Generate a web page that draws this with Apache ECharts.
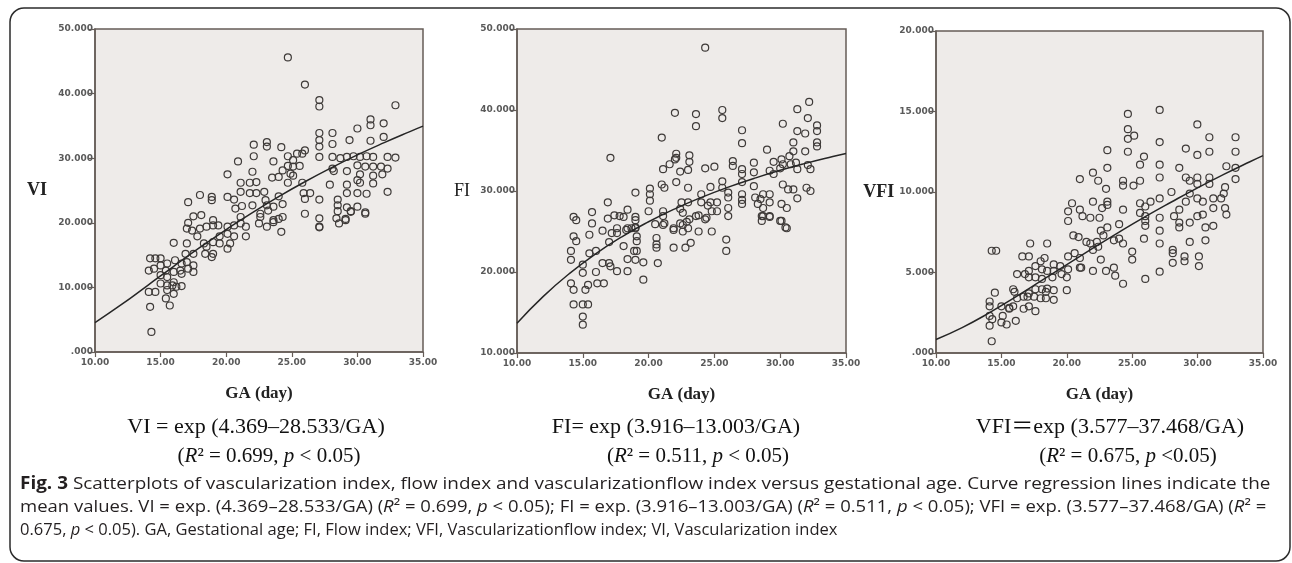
<!DOCTYPE html>
<html><head><meta charset="utf-8">
<script src="https://cdn.jsdelivr.net/npm/echarts@6/dist/echarts.min.js"></script>
<style>html,body{margin:0;padding:0;background:#fff}#c{width:1292px;height:563px}</style>
</head><body><div id="c"></div>
<script>
// ---------- tick labels ----------
const gaTickLabels = ['10.00','15.00','20.00','25.00','30.00','35.00'];
const viTickLabels = ['.000','10.000','20.000','30.000','40.000','50.000'];
const fiTickLabels = ['10.000','20.000','30.000','40.000','50.000'];
const vfiTickLabels = ['.000','5.000','10.000','15.000','20.000'];

// ---------- regression curves ----------
const curveGA  = [10, 12, 14, 16, 18, 20, 22, 24, 26, 28, 30, 32, 34, 35];
const viCurve  = [4.55, 7.32, 10.29, 13.27, 16.18, 18.96, 21.59, 24.05, 26.35, 28.50, 30.51, 32.37, 34.12, 34.96];
const fiCurve  = [13.68, 16.99, 19.83, 22.27, 24.38, 26.20, 27.80, 29.20, 30.45, 31.55, 32.55, 33.44, 34.25, 34.63];
const vfiCurve = [0.84, 1.58, 2.46, 3.44, 4.46, 5.49, 6.51, 7.51, 8.47, 9.38, 10.26, 11.09, 11.88, 12.26];

// ---------- scatter points [GA, value] ----------
const viPoints = [[24.7,45.6],[26.0,41.4],[27.1,39.0],[27.1,38.0],[32.9,38.2],[31.0,36.0],[31.0,35.1],[32.0,35.4],[30.0,34.6],[27.1,33.9],[27.1,32.8],[27.1,31.8],[28.1,33.9],[28.1,32.2],[29.4,32.8],[32.0,33.3],[31.0,32.7],[23.1,32.5],[23.1,31.8],[22.1,32.1],[24.2,31.7],[26.0,31.2],[20.9,29.5],[22.1,30.3],[24.7,30.3],[25.4,30.7],[25.8,30.7],[27.1,30.2],[28.1,30.2],[28.7,30.0],[29.2,30.2],[29.7,30.3],[30.2,30.2],[30.7,30.3],[31.2,30.2],[32.9,30.1],[32.3,30.2],[23.6,29.5],[25.1,29.7],[24.7,28.8],[25.1,28.7],[25.6,28.8],[24.3,28.1],[28.1,28.4],[28.2,28.0],[29.2,28.0],[30.0,28.9],[30.6,28.7],[31.2,28.7],[31.8,28.7],[32.3,28.4],[22.0,27.9],[20.1,27.5],[24.9,27.6],[25.1,27.3],[30.2,27.5],[31.2,27.3],[31.9,27.5],[21.1,26.2],[21.8,26.2],[22.3,26.3],[23.5,27.0],[24.0,27.1],[24.7,26.2],[25.8,26.2],[27.9,25.9],[29.2,25.9],[30.0,26.6],[30.2,26.2],[31.2,26.1],[32.3,24.8],[18.0,24.3],[18.9,24.0],[18.9,23.5],[20.1,24.0],[20.6,23.6],[21.8,24.6],[22.3,24.6],[22.9,24.8],[21.1,24.8],[17.1,23.2],[24.0,24.1],[25.9,24.6],[26.4,24.6],[26.0,23.7],[27.1,23.6],[28.5,23.6],[29.2,24.6],[30.0,24.6],[30.7,24.5],[23.0,23.5],[23.6,22.5],[23.1,22.7],[20.7,22.2],[21.2,22.6],[22.0,22.7],[22.6,21.4],[23.2,21.9],[24.3,22.9],[28.5,22.7],[29.2,22.4],[30.0,22.5],[30.6,21.6],[28.5,21.8],[29.5,21.8],[26.0,21.4],[27.1,20.7],[27.1,19.4],[28.4,20.7],[29.1,20.6],[23.6,20.4],[24.0,20.6],[24.3,20.9],
[17.1,20.0],[17.5,21.0],[18.1,21.2],[19.0,20.4],[19.0,19.6],[19.4,19.6],[18.0,19.1],[18.5,19.4],[17.0,19.1],[17.4,18.8],[20.1,19.4],[20.6,19.6],[21.1,19.9],[21.5,19.4],[21.1,20.9],[22.5,19.9],[23.1,19.4],[23.6,20.1],[24.2,18.6],[22.6,20.9],[21.5,17.9],[27.1,19.3],[28.6,19.9],[29.1,20.4],[29.5,21.7],[30.6,21.4],[16.0,16.9],[17.0,16.8],[17.8,17.9],[18.3,16.8],[19.0,17.0],[19.5,17.9],[20.1,18.3],[20.6,17.9],[18.4,15.2],[18.9,14.7],[19.0,15.2],[19.5,16.8],[20.1,16.0],[20.3,16.8],[16.9,15.2],[17.5,15.2],[17.0,13.9],[17.5,13.4],[16.1,14.2],[16.6,13.7],[14.2,14.5],[14.6,14.5],[15.0,14.5],[14.1,12.6],[14.5,12.9],[15.0,13.4],[15.5,13.7],[16.0,12.4],[16.5,12.6],[16.6,12.1],[15.0,11.9],[15.5,11.6],[16.0,10.8],[15.4,12.6],[15.0,10.6],[15.5,10.3],[15.9,10.3],[16.2,10.1],[16.6,10.2],[15.5,9.6],[16.0,9.0],[14.1,9.3],[14.6,9.3],[15.4,8.3],[15.7,7.2],[14.2,7.0],[14.3,3.1],[17.5,12.4],[17.1,12.9],[18.5,16.3]];

const fiPoints = [[24.3,47.7],[22.0,39.65],[23.6,39.5],[23.6,38.0],[25.6,40.0],[25.6,39.0],[32.2,41.0],[31.3,40.1],[32.1,39.0],[30.2,38.3],[32.8,38.1],[32.8,37.4],[31.3,37.4],[31.9,37.1],[27.1,37.5],[27.1,35.9],[31.0,36.0],[32.8,36.0],[32.8,35.5],[21.0,36.6],[17.1,34.1],[22.1,34.6],[22.1,34.1],[22.0,33.9],[21.6,33.3],[21.1,32.7],[23.1,34.4],[23.1,33.6],[23.0,32.6],[24.3,32.8],[25.0,33.0],[22.4,32.4],[22.1,31.1],[26.4,33.7],[26.4,33.1],[27.1,32.7],[27.1,32.1],[28.0,33.5],[28.0,32.3],[29.0,35.1],[29.5,33.6],[30.1,33.9],[30.2,33.3],[30.0,32.8],[29.2,32.5],[29.5,32.1],[30.7,34.3],[30.8,33.3],[31.2,33.5],[31.3,32.7],[31.0,34.9],[31.9,34.9],[32.1,33.2],[32.3,32.7],[32.0,30.4],[32.3,30.0],[30.2,30.8],[30.6,30.2],[31.0,30.2],[31.3,29.1],[21.0,30.8],[21.2,30.4],[23.0,30.4],[20.1,30.3],[20.1,29.6],[20.1,28.8],[20.0,27.5],[19.0,29.8],[16.9,28.6],[24.0,29.6],[24.7,30.5],[24.7,28.6],[25.6,31.2],[25.6,30.4],[26.05,29.8],[26.05,29.2],[26.05,27.9],[26.05,26.9],[27.1,31.1],[27.1,29.6],[27.1,28.9],[27.1,28.4],[28.0,30.6],[28.1,29.2],[28.5,29.0],[28.7,29.6],[29.2,29.6],[28.3,28.4],[28.7,27.9],[29.2,28.6],[30.1,28.4],[30.5,27.9],[28.6,26.9],[29.2,26.8],[30.0,26.3],[30.4,25.5],[22.5,28.6],[23.0,28.6],[22.4,27.8],[22.6,27.3],[24.0,28.6],[24.5,28.2],[25.2,28.6],[24.8,27.5],[25.2,27.5],[21.1,27.5],[21.1,26.9],[14.3,26.8],[14.5,26.4],[15.7,27.4],[15.7,26.0],[16.9,26.6],[16.5,25.1],[17.4,27.0],[17.8,26.9],[18.1,26.8],[19.0,26.8],[19.0,26.4],[19.0,25.5],[18.4,27.7],[20.5,25.9],[21.1,25.8],[21.9,25.4],[22.4,26.0],[22.9,26.2],[23.1,26.5],[23.8,27.0],[24.3,26.5],[18.4,25.4],[19.0,25.4],[17.6,25.4],
[14.3,24.4],[14.5,23.8],[14.1,22.6],[14.1,21.5],[14.1,18.6],[14.3,17.8],[14.3,16.0],[15.0,14.5],[15.0,13.5],[15.0,16.0],[15.4,16.0],[15.0,19.9],[15.0,20.9],[15.2,17.8],[15.5,24.6],[15.5,22.3],[16.0,22.6],[15.4,18.4],[16.1,18.6],[16.0,20.0],[16.6,18.6],[16.5,21.1],[17.0,21.1],[17.1,20.7],[17.6,20.1],[18.4,20.1],[18.4,21.6],[19.0,21.5],[19.6,21.2],[18.9,22.6],[19.1,22.6],[19.6,19.05],[18.1,23.2],[17.0,23.7],[17.6,24.8],[17.2,24.8],[18.3,25.2],[18.7,25.4],[19.1,23.8],[19.1,24.4],[20.6,24.2],[20.6,23.4],[20.6,23.0],[20.7,21.1],[21.9,23.0],[22.8,23.0],[23.2,23.6],[21.9,25.2],[22.6,25.8],[23.0,25.4],[22.6,25.0],[23.8,25.0],[24.8,25.0],[21.2,26.0],[23.6,26.9],[24.4,26.7],[25.9,24.0],[25.9,22.6],[28.7,26.9],[29.2,26.9],[30.1,26.3],[30.5,25.4],[28.6,26.3]];

const vfiPoints = [[24.67,14.85],[27.1,15.1],[29.98,14.2],[24.67,13.9],[24.67,13.3],[25.15,13.5],[30.9,13.4],[32.9,13.4],[27.1,13.1],[23.1,12.6],[24.67,12.5],[29.1,12.7],[29.98,12.3],[30.9,12.5],[32.9,12.5],[25.9,12.2],[25.6,11.7],[27.1,11.7],[23.1,11.5],[28.6,11.5],[32.2,11.6],[32.9,11.5],[21.0,10.8],[22.0,11.2],[22.4,10.7],[23.0,10.2],[24.3,10.7],[24.3,10.4],[25.1,10.4],[25.6,10.7],[27.1,10.9],[29.1,10.9],[29.4,10.7],[29.98,10.9],[29.98,10.5],[30.9,10.9],[30.9,10.5],[32.9,10.8],[32.1,10.3],[32.0,9.9],[31.8,9.6],[31.2,9.0],[32.1,9.0],[32.2,8.6],[20.4,9.3],[20.1,8.8],[20.1,8.2],[21.0,8.9],[21.2,8.5],[22.0,9.4],[21.8,8.4],[22.5,8.4],[22.7,9.0],[23.1,9.4],[23.1,9.2],[24.3,8.9],[25.6,9.3],[25.6,8.7],[26.0,9.1],[26.4,9.4],[26.0,8.5],[26.0,8.2],[26.0,7.9],[27.1,9.6],[27.1,8.4],[27.1,7.6],[27.1,6.8],[28.0,10.0],[28.2,8.5],[28.6,8.9],[28.6,8.1],[28.6,7.8],[29.1,9.4],[29.4,9.9],[29.4,8.1],[29.98,9.6],[29.98,8.5],[30.4,8.6],[30.4,9.4],[31.2,9.6],[30.6,7.8],[31.2,7.9],[30.6,7.0],[29.4,6.9],[28.1,6.4],[28.1,6.2],[28.1,5.6],[29.0,6.0],[29.0,5.7],[30.1,6.0],[30.1,5.4],[25.9,7.1],[25.0,6.3],[25.0,5.8],[27.1,5.05],[26.0,4.6],[24.3,6.8],[24.3,4.3],[23.6,7.0],[24.0,7.1],[23.6,5.3],[23.7,4.8],[23.0,5.1],[24.0,8.0],[23.1,7.8],[22.6,7.6],[22.8,7.3],[22.3,6.9],[22.4,6.6],[22.6,5.8],[21.8,6.8],[21.5,6.9],[22.0,6.4],[22.0,5.1],[21.1,5.3],[20.5,7.3],[20.9,7.2],[20.6,6.2],[21.0,5.9],[21.0,5.3],[20.1,6.0],[20.0,3.9],[20.1,5.2],[20.0,4.7],[19.5,5.4],[19.0,5.5],[19.6,4.9],[19.0,5.1],[18.9,4.7],[18.5,5.1],[19.0,3.9],[19.0,3.3],[18.5,4.0],[18.4,3.4],[18.4,3.8],[18.5,6.8],[17.2,6.8],[18.0,5.7],[18.3,5.9],[17.6,5.4],[18.1,5.2],[17.1,5.1],[17.6,4.7],[18.1,4.6],[17.1,4.7],[16.8,4.9],[16.2,4.9],[16.6,6.0],[17.1,6.0],[18.1,3.96],[17.6,3.96],[17.1,3.7],[16.7,3.5],[15.9,3.96],[16.0,3.8],[17.1,2.9],[16.7,2.75],[17.0,3.5],[17.5,3.5],[18.0,3.4],[17.6,2.6],[15.9,2.9],[15.6,2.75],[16.2,3.4],[15.6,2.8],[15.0,2.9],[15.1,2.3],[15.0,1.9],[15.4,1.77],[16.1,2.0],[14.5,3.75],[14.26,6.35],[14.6,6.35],[14.1,2.9],[14.1,3.2],[14.1,2.3],[14.3,2.1],[14.1,1.7],[14.26,0.73]];

// ---------- texts ----------
const yNames = ['VI', 'FI', 'VFI'];
const xName = 'GA (day)';
const formulas = ['VI = exp (4.369–28.533/GA)', 'FI= exp (3.916–13.003/GA)', 'VFI＝exp (3.577–37.468/GA)'];
const r2Texts = ['({i|R}² = 0.699, {i|p} < 0.05)', '({i|R}² = 0.511, {i|p} < 0.05)', '({i|R}² = 0.675, {i|p} <0.05)'];
const captionLines = [
  '{b|Fig. 3} Scatterplots of vascularization index, flow index and vascularizationflow index versus gestational age. Curve regression lines indicate the',
  'mean values. VI = exp. (4.369–28.533/GA) ({i|R}² = 0.699, {i|p} < 0.05); FI = exp. (3.916–13.003/GA) ({i|R}² = 0.511, {i|p} < 0.05); VFI = exp. (3.577–37.468/GA) ({i|R}² =',
  '0.675, {i|p} < 0.05). GA, Gestational age; FI, Flow index; VFI, Vascularizationflow index; VI, Vascularization index'
];

// ---------- layout ----------
const grids = [
  {left: 95, top: 29, width: 328, height: 323},
  {left: 517, top: 29, width: 329, height: 324},
  {left: 936, top: 31, width: 327, height: 322}
];
const yCfg = [
  {min: 0, max: 50, interval: 10, labels: viTickLabels, gap: 48, weight: 'bold'},
  {min: 10, max: 50, interval: 10, labels: fiTickLabels, gap: 47, weight: 'normal'},
  {min: 0, max: 20, interval: 5, labels: vfiTickLabels, gap: 41, weight: 'bold'}
];
const formulaX = [256, 676, 1110];
const r2X = [269, 698, 1128];
const captionTargets = [1248, 1250, 818];

const axisColor = '#655c57';
const serif = "'Liberation Serif', 'Noto Sans CJK SC', serif";
const tickFont = {fontFamily: "'DejaVu Sans', sans-serif", fontSize: 9, fontWeight: 'bold', color: '#5a5a5a'};

const xAxes = grids.map((g, i) => ({
  type: 'value', gridIndex: i, min: 10, max: 35, interval: 5,
  name: xName, nameLocation: 'middle', nameGap: 33,
  nameTextStyle: {fontFamily: serif, fontSize: 17, fontWeight: 'bold', color: '#222'},
  axisLine: {show: true, lineStyle: {color: axisColor, width: 1.5}},
  axisTick: {show: true, inside: false, length: 5, lineStyle: {color: axisColor, width: 1.2}},
  axisLabel: Object.assign({margin: 6, formatter: v => gaTickLabels[Math.round((v - 10) / 5)]}, tickFont),
  splitLine: {show: false}
}));
const yAxes = yCfg.map((c, i) => ({
  type: 'value', gridIndex: i, min: c.min, max: c.max, interval: c.interval,
  name: yNames[i], nameLocation: 'middle', nameRotate: 0, nameGap: c.gap,
  nameTextStyle: {fontFamily: serif, fontSize: 18, fontWeight: c.weight, color: '#222', align: 'right', verticalAlign: 'middle'},
  axisLine: {show: true, lineStyle: {color: axisColor, width: 1.5}},
  axisTick: {show: true, inside: false, length: 6, lineStyle: {color: axisColor, width: 1.2}},
  axisLabel: Object.assign({margin: 2, formatter: v => c.labels[Math.round((v - c.min) / c.interval)]}, tickFont),
  splitLine: {show: false}
}));

const pointSets = [viPoints, fiPoints, vfiPoints];
const curveSets = [viCurve, fiCurve, vfiCurve];
const series = [];
pointSets.forEach((pts, i) => {
  series.push({
    type: 'scatter', xAxisIndex: i, yAxisIndex: i, data: pts, symbol: 'circle', symbolSize: 7,
    itemStyle: {color: 'rgba(0,0,0,0)', borderColor: '#3e3a38', borderWidth: 1.2, opacity: 1},
    silent: true, z: 3
  });
  series.push({
    type: 'line', xAxisIndex: i, yAxisIndex: i, data: curveGA.map((g, k) => [g, curveSets[i][k]]),
    smooth: true, showSymbol: false, symbol: 'none', lineStyle: {color: '#262626', width: 1.5},
    silent: true, z: 4
  });
});

function measure(text, font) {
  const ctx = document.createElement('canvas').getContext('2d');
  ctx.font = font;
  return ctx.measureText(text).width;
}
const capFamily = "'Open Sans', sans-serif";
const capSize = 17;
const graphics = [{
  type: 'rect', shape: {x: 10, y: 8, width: 1280, height: 553, r: 14},
  style: {fill: 'none', stroke: '#2b2b2b', lineWidth: 1.5}, silent: true, z: 0
}];
formulas.forEach((t, i) => {
  graphics.push({type: 'text', x: formulaX[i], y: 427, silent: true,
    style: {text: t, fontFamily: serif, fontSize: 22, fill: '#111', textAlign: 'center', verticalAlign: 'middle'}});
});
r2Texts.forEach((t, i) => {
  graphics.push({type: 'text', x: r2X[i], y: 456, silent: true,
    style: {text: t, fontFamily: serif, fontSize: 21, fill: '#111', textAlign: 'center', verticalAlign: 'middle',
      rich: {i: {fontFamily: serif, fontSize: 21, fontStyle: 'italic', fill: '#111'}}}});
});
const capY = [484, 507, 530];
captionLines.forEach((t, i) => {
  const plain = t.replace(/\{[bi]\|([^}]*)\}/g, '$1');
  const w = measure(plain, capSize + 'px ' + capFamily);
  const s = captionTargets[i] / w;
  graphics.push({type: 'text', x: 20, y: capY[i], scaleX: s, silent: true,
    style: {text: t, fontFamily: capFamily, fontSize: capSize, fill: '#231f20', textAlign: 'left', verticalAlign: 'middle',
      rich: {
        b: {fontFamily: capFamily, fontSize: capSize, fontWeight: 'bold', fill: '#231f20'},
        i: {fontFamily: capFamily, fontSize: capSize, fontStyle: 'italic', fill: '#231f20'}
      }}});
});

const chart = echarts.init(document.getElementById('c'), null, {renderer: 'canvas'});
chart.setOption({
  animation: false,
  backgroundColor: '#ffffff',
  grid: grids.map(g => Object.assign({show: true, backgroundColor: '#eeebe9', borderColor: axisColor, borderWidth: 1.5, containLabel: false}, g)),
  xAxis: xAxes,
  yAxis: yAxes,
  series: series,
  graphic: graphics
});
</script></body></html>
